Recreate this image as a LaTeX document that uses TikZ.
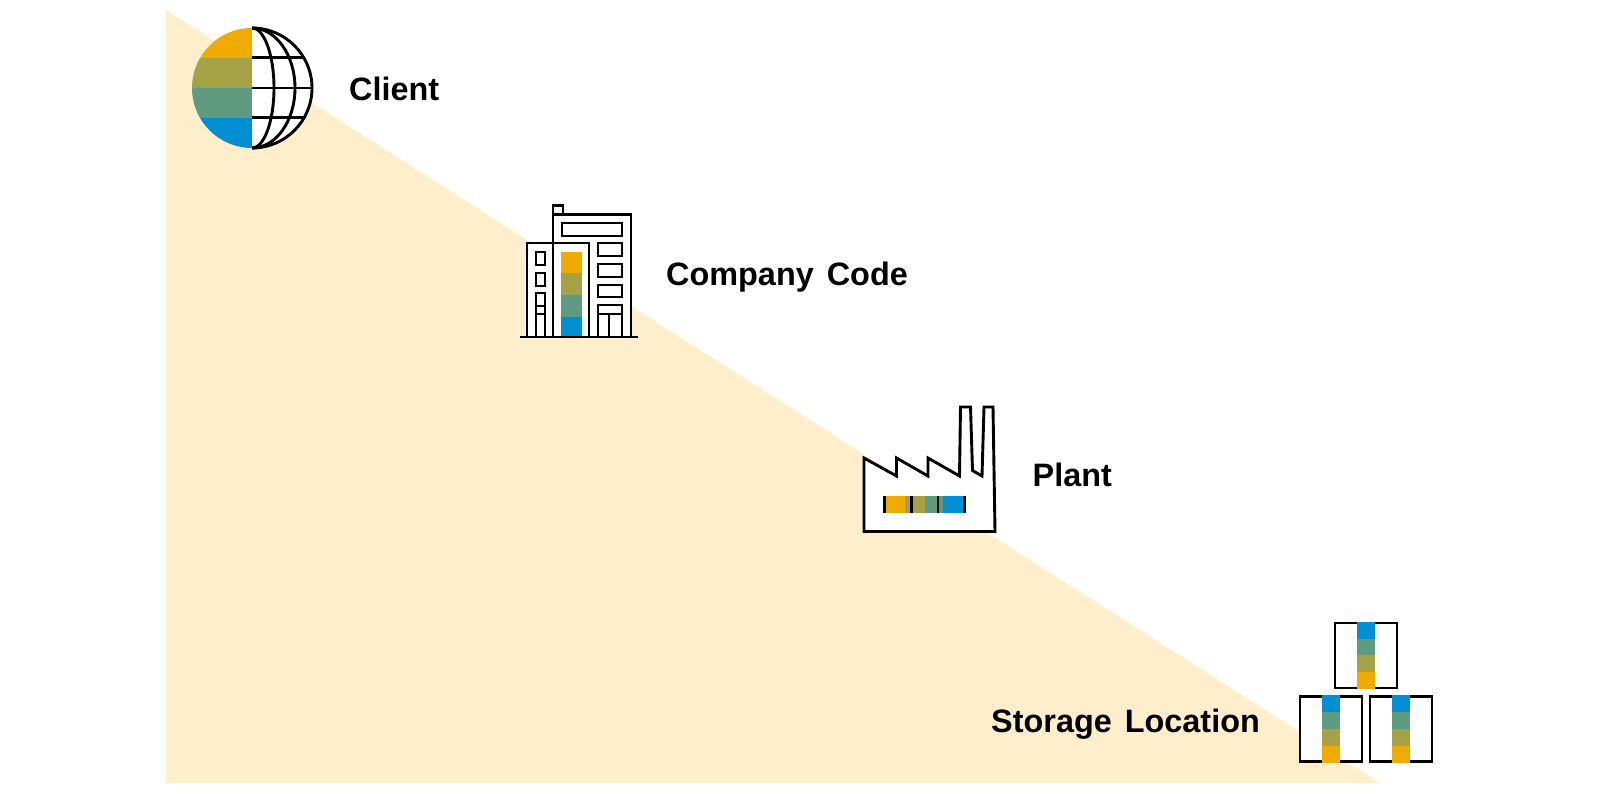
\documentclass[tikz,border=0pt]{standalone}
\usepackage{fontspec}
\setmainfont{Liberation Sans}[WordSpace=1.45]
\usetikzlibrary{positioning}

\definecolor{bandorange}{HTML}{F0AB00}
\definecolor{bandolive}{HTML}{A5A145}
\definecolor{bandgreen}{HTML}{5F9B80}
\definecolor{bandblue}{HTML}{008FD3}
\definecolor{wedge}{HTML}{FEEECB}

\begin{document}
\begin{tikzpicture}[
    x=1pt, y=-1pt,
    every node/.style={font=\fontsize{32.4}{36}\selectfont\bfseries, inner sep=0pt, anchor=base west},
    iconline/.style={draw=black, line width=2.9pt, miter limit=10},
    iconbox/.style={iconline, fill=white},
]
\useasboundingbox (0,0) rectangle (1600,794);

% Background wedge
\fill[wedge] (166,10) -- (1380,783) -- (166,783) -- cycle;

% Titles
\node (Client) at (349,101) {Client};
\node (Company) at (666,286) {Company Code};
\node (Plant) at (1032.5,486.5) {Plant};
\node (Storage) at (991,732.5) {Storage Location};

% ================================================================
% CLIENT: globe, coloured on the left, meridians on the right
% ================================================================
\fill[white] (252,88) circle (60pt);
\begin{scope}
    \clip (252,88) circle (60pt);
    \fill[bandorange] (190,27) rectangle (252,57.7);
    \fill[bandolive] (190,57.7) rectangle (252,88.2);
    \fill[bandgreen] (190,88.2) rectangle (252,117.7);
    \fill[bandblue] (190,117.7) rectangle (252,149);
    \draw[iconline] (252,57.7) -- (315,57.7) (252,88) -- (315,88) (252,117.7) -- (315,117.7);
\end{scope}
\begin{scope}
    \clip (252,20) rectangle (320,156);
    \draw[iconline] (252,88) ellipse [x radius=22pt, y radius=60pt];
    \draw[iconline] (252,88) ellipse [x radius=43pt, y radius=60pt];
    \draw[iconline] (252,88) circle (60pt);
\end{scope}

% ================================================================
% COMPANY CODE: office building
% ================================================================
\draw[iconbox] (553,214.5) -- (553,205.5) -- (563,205.5) -- (563,214.5);
\draw[iconbox] (553,337) -- (553,214.5) -- (631,214.5) -- (631,337) -- cycle;
\fill[white] (527,337) rectangle (589,243);
\draw[iconline] (527,337) -- (527,243) -- (589,243) -- (589,337) (553,243) -- (553,337);
\draw[iconline] (562,223) rectangle (622,236);

% left windows and door
\draw[iconline] (536,252) rectangle (545,265);
\draw[iconline] (536,273) rectangle (545,286);
\draw[iconline] (536,337) -- (536,293) -- (545,293) -- (545,337) (536,306) -- (545,306) (536,314) -- (545,314);

% right windows and door
\draw[iconline] (598,243) rectangle (622,256);
\draw[iconline] (598,264) rectangle (622,277);
\draw[iconline] (598,285) rectangle (622,297);
\draw[iconline] (598,337) -- (598,305) -- (622,305) -- (622,337) (598,314) -- (622,314) (609,314) -- (609,337);

% colour column
\fill[bandorange] (561,252) rectangle (582,273);
\fill[bandolive] (561,273) rectangle (582,295);
\fill[bandgreen] (561,295) rectangle (582,317);
\fill[bandblue] (561,317) rectangle (582,338);

% ground line
\draw[iconline] (520,337) -- (638,337);

% ================================================================
% PLANT: factory with two chimneys
% ================================================================
\draw[iconbox] (864,531.5) -- (864,458) -- (896.5,476) -- (896.5,458) -- (928,476) -- (928,458)
    -- (959.5,476) -- (960.5,407) -- (970.5,407) -- (972.5,470.5) -- (982,476) -- (984,407)
    -- (993,407) -- (995,531.5) -- cycle;

\fill[bandorange] (886,495.7) rectangle (905,512.7);
\fill[bandolive] (905,495.7) rectangle (925,512.7);
\fill[bandgreen] (925,495.7) rectangle (943.3,512.7);
\fill[bandblue] (943.3,495.7) rectangle (964,512.7);
\fill[black] (883.3,495.7) rectangle (886,512.7);
\fill[black] (910,495.7) rectangle (912.7,512.7);
\fill[black] (936.7,495.7) rectangle (939.3,512.7);
\fill[black] (963.3,495.7) rectangle (966,512.7);

% ================================================================
% STORAGE LOCATION: three stacked boxes
% ================================================================
\begin{scope}[shift={(1335,623)}]
    \draw[iconbox] (0,0) rectangle (62,65);
    \fill[bandblue] (22.4,-1.3) rectangle (40,16);
    \fill[bandgreen] (22.4,16) rectangle (40,32.2);
    \fill[bandolive] (22.4,32.2) rectangle (40,49.2);
    \fill[bandorange] (22.4,49.2) rectangle (40,66.2);
\end{scope}
\begin{scope}[shift={(1300,696.3)}]
    \draw[iconbox] (0,0) rectangle (62,65);
    \fill[bandblue] (22.4,-1.3) rectangle (40,16);
    \fill[bandgreen] (22.4,16) rectangle (40,32.2);
    \fill[bandolive] (22.4,32.2) rectangle (40,49.2);
    \fill[bandorange] (22.4,49.2) rectangle (40,66.2);
\end{scope}
\begin{scope}[shift={(1370,696.3)}]
    \draw[iconbox] (0,0) rectangle (62,65);
    \fill[bandblue] (22.4,-1.3) rectangle (40,16);
    \fill[bandgreen] (22.4,16) rectangle (40,32.2);
    \fill[bandolive] (22.4,32.2) rectangle (40,49.2);
    \fill[bandorange] (22.4,49.2) rectangle (40,66.2);
\end{scope}

\end{tikzpicture}
\end{document}
